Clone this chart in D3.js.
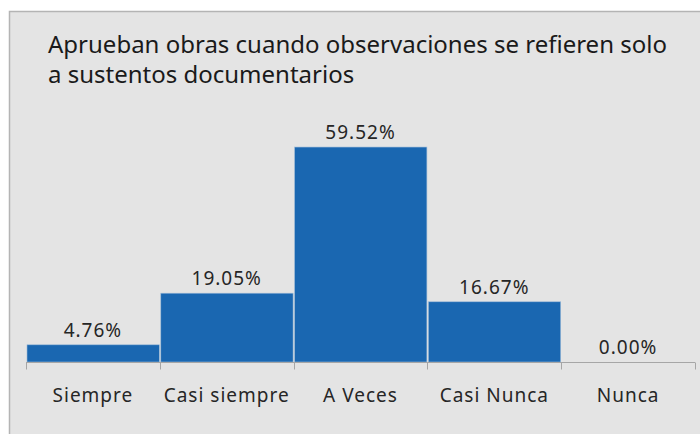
<!DOCTYPE html>
<html>
<head>
<meta charset="utf-8">
<script src="https://cdn.jsdelivr.net/npm/d3@7"></script>
<style>
  body { margin: 0; background: #ffffff; }
  svg { display: block; }
</style>
</head>
<body>
<script>
var categories = ["Siempre", "Casi siempre", "A Veces", "Casi Nunca", "Nunca"];
var values = [4.76, 19.05, 59.52, 16.67, 0.00];
var titleLines = ["Aprueban obras cuando observaciones se refieren solo",
                  "a sustentos documentarios"];

var width = 700,
    height = 434;

var fontFam = "'Noto Sans', 'Open Sans', sans-serif";

var svg = d3.select("body").append("svg")
    .attr("width", width)
    .attr("height", height);

// chart frame, runs off the right and bottom of the picture
svg.append("rect")
    .attr("x", 9.5)
    .attr("y", 11.5)
    .attr("width", 720)
    .attr("height", 440)
    .style("fill", "#e4e4e4")
    .style("stroke", "#b4b4b4")
    .style("stroke-width", 1.5);

svg.append("text")
    .attr("x", 48)
    .attr("y", 53)
    .style("font-family", fontFam)
    .style("font-size", "24px")
    .style("fill", "#1a1a1a")
    .selectAll("tspan")
    .data(titleLines)
    .enter().append("tspan")
    .attr("x", 48)
    .attr("dy", function(d, i) { return i === 0 ? 0 : 30; })
    .text(function(d) { return d; });

var x = d3.scaleBand()
    .domain(categories)
    .range([26, 695])
    .padding(0);

var y = d3.scaleLinear()
    .domain([0, 60])
    .range([362, 145.3]);

var bars = svg.append("g");

bars.selectAll("rect")
    .data(values)
    .enter().append("rect")
    .attr("x", function(d, i) { return x(categories[i]) + 1; })
    .attr("width", x.bandwidth() - 1.5)
    .attr("y", function(d) { return y(d); })
    .attr("height", function(d) { return y(0) - y(d); })
    .style("fill", "#1a67b1")
    .style("stroke", "#9dbbd8")
    .style("stroke-width", 0.6);

bars.selectAll("text")
    .data(values)
    .enter().append("text")
    .attr("x", function(d, i) { return x(categories[i]) + x.bandwidth() / 2; })
    .attr("y", function(d) { return y(d) - 8; })
    .attr("text-anchor", "middle")
    .style("font-family", fontFam)
    .style("font-size", "19px")
    .style("letter-spacing", "1px")
    .style("fill", "#262626")
    .text(function(d) { return d.toFixed(2) + "%"; });

// x axis, ticks on band edges
var axis = svg.append("g")
    .attr("transform", "translate(0,362.5)");

axis.append("line")
    .attr("x1", x.range()[0])
    .attr("x2", x.range()[1])
    .style("stroke", "#a6a6a6")
    .style("stroke-width", 1);

var edges = categories.map(function(c) { return x(c); }).concat([x.range()[1]]);
axis.selectAll(".tk")
    .data(edges)
    .enter().append("line")
    .attr("class", "tk")
    .attr("x1", function(d) { return Math.round(d) + 0.5; })
    .attr("x2", function(d) { return Math.round(d) + 0.5; })
    .attr("y1", 0)
    .attr("y2", 7)
    .style("stroke", "#a6a6a6");

axis.selectAll(".lbl")
    .data(categories)
    .enter().append("text")
    .attr("class", "lbl")
    .attr("x", function(d) { return x(d) + x.bandwidth() / 2; })
    .attr("y", 39)
    .attr("text-anchor", "middle")
    .style("font-family", fontFam)
    .style("font-size", "19px")
    .style("letter-spacing", "1px")
    .style("fill", "#262626")
    .text(function(d) { return d; });
</script>
</body>
</html>
